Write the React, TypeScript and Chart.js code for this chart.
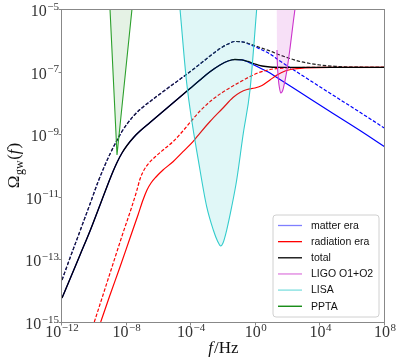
import React, { useEffect, useRef } from 'react';
import { Chart, registerables } from 'chart.js';

Chart.register(...registerables);

const W = 399;
const H = 363;

// Tick positions (as powers of ten)
const xTickExps = [-12, -8, -4, 0, 4, 8];
const yTickExps = [-15, -13, -11, -9, -7, -5];

// Curves, stored as log10(f / Hz) and log10(Omega_gw)
const totalSolidLogF = [-12, -11.505, -10.885, -10.266, -9.647, -9.152, -8.842, -8.594, -8.285, -7.975, -7.542, -7.17, -6.551, -5.932, -5.313, -4.693, -4.074, -3.455, -2.836, -2.217, -1.721, -1.288, -0.854, -0.483, -0.05, 0.384, 0.879, 1.808, 4.594, 8];
const totalSolidLogOmega = [-14.233, -13.626, -12.859, -12.093, -11.262, -10.591, -10.192, -9.904, -9.601, -9.361, -9.089, -8.898, -8.626, -8.355, -8.083, -7.812, -7.54, -7.268, -7.006, -6.789, -6.661, -6.613, -6.623, -6.677, -6.757, -6.821, -6.853, -6.863, -6.863, -6.863];

const totalDashedLogF = [-12, -11.505, -10.885, -10.266, -9.771, -9.337, -9.028, -8.718, -8.347, -7.975, -7.542, -7.17, -6.427, -5.622, -4.693, -4.074, -3.455, -2.836, -2.217, -1.721, -1.288, -0.854, -0.359, 0.26, 0.879, 1.498, 2.118, 2.737, 3.356, 3.975, 4.904, 5.833, 8];
const totalDashedLogOmega = [-13.658, -12.955, -12.093, -11.23, -10.527, -9.984, -9.633, -9.313, -8.962, -8.674, -8.403, -8.211, -7.907, -7.594, -7.243, -7.006, -6.757, -6.502, -6.265, -6.118, -6.038, -6.048, -6.118, -6.23, -6.342, -6.47, -6.581, -6.677, -6.741, -6.789, -6.831, -6.856, -6.863];

const matterSolidLogF = [-12, -11.505, -10.885, -10.266, -9.647, -9.152, -8.842, -8.594, -8.285, -7.975, -7.542, -7.17, -6.551, -5.932, -5.313, -4.693, -4.074, -3.455, -2.836, -2.217, -1.721, -1.288, -0.854, -0.483, -0.05, 0.384, 0.879, 1.498, 2.737, 4.594, 6.452, 8];
const matterSolidLogOmega = [-14.233, -13.626, -12.859, -12.093, -11.262, -10.591, -10.192, -9.904, -9.601, -9.361, -9.089, -8.898, -8.626, -8.355, -8.083, -7.812, -7.54, -7.268, -7.006, -6.789, -6.661, -6.613, -6.623, -6.693, -6.805, -6.917, -7.045, -7.252, -7.661, -8.275, -8.882, -9.409];

const matterDashedLogF = [-12, -11.505, -10.885, -10.266, -9.771, -9.337, -9.028, -8.718, -8.347, -7.975, -7.542, -7.17, -6.427, -5.622, -4.693, -4.074, -3.455, -2.836, -2.217, -1.721, -1.288, -0.854, -0.359, 0.26, 0.879, 1.498, 2.737, 4.594, 6.452, 8];
const matterDashedLogOmega = [-13.658, -12.955, -12.093, -11.23, -10.527, -9.984, -9.633, -9.313, -8.962, -8.674, -8.403, -8.211, -7.907, -7.594, -7.243, -7.006, -6.757, -6.502, -6.265, -6.118, -6.038, -6.048, -6.134, -6.278, -6.438, -6.661, -7.077, -7.69, -8.3, -8.815];

const radSolidLogF = [-9.604, -9.028, -8.409, -7.789, -7.294, -6.985, -6.737, -6.489, -6.18, -5.746, -5.127, -4.508, -3.889, -3.455, -2.836, -2.031, -1.412, -0.978, -0.545, -0.05, 0.384, 0.879, 1.313, 1.808, 2.303, 3.046, 4.594, 8];
const radSolidLogOmega = [-15.0, -14.137, -13.243, -12.316, -11.581, -11.102, -10.783, -10.559, -10.367, -10.144, -9.879, -9.559, -9.24, -8.962, -8.594, -8.163, -7.827, -7.668, -7.572, -7.524, -7.444, -7.268, -7.109, -6.981, -6.917, -6.885, -6.863, -6.863];

const radDashedLogF = [-10.0, -9.461, -8.904, -8.285, -7.684, -7.375, -7.17, -6.923, -6.613, -6.241, -5.746, -5.127, -4.57, -4.074, -3.455, -2.712, -2.031, -0.978, 0.074, 0.879, 1.808, 2.737, 8];
const radDashedLogOmega = [-15.0, -14.137, -13.243, -12.252, -11.326, -10.815, -10.431, -10.144, -9.92, -9.728, -9.505, -9.24, -8.93, -8.626, -8.259, -7.907, -7.652, -7.332, -7.054, -6.933, -6.885, -6.869, -6.863];

// Sensitivity regions
const pptaLogF = [-9.028, -8.594, -7.666];
const pptaLogOmega = [-5, -9.665, -5];

const lisaLogF = [-4.693, -4.279, -3.455, -3.04, -2.631, -2.372, -2.173, -2.031, -1.802, -1.492, -1.183, -0.774, -0.359, 0.056];
const lisaLogOmega = [-5, -7.364, -10.144, -11.316, -12.061, -12.412, -12.572, -12.476, -12.061, -11.316, -10.463, -8.971, -7.588, -5];

const ligoLogF = [1.282, 1.313, 1.393, 1.467, 1.542, 1.622, 1.703, 1.913, 2.118, 2.322, 2.427];
const ligoLogOmega = [-5, -6.31, -7.204, -7.524, -7.684, -7.652, -7.534, -7.003, -6.256, -5.406, -5];

const legendLabels = ['matter era', 'radiation era', 'total', 'LIGO O1+O2', 'LISA', 'PPTA'];
const legendColors = ['rgba(0,0,255,0.5)', '#ff0000', '#000000', 'rgba(191,0,191,0.5)', 'rgba(0,191,191,0.5)', '#008000'];

const SERIF = '"Liberation Serif", "DejaVu Serif", serif';
const SANS = '"Liberation Sans", Arial, sans-serif';

function pts(lf: number[], lo: number[]) {
  return lf.map((f, i) => ({ x: Math.pow(10, f), y: Math.pow(10, lo[i]) }));
}

function drawPow(ctx: CanvasRenderingContext2D, exp: number, x: number, baseY: number, align: 'center' | 'right') {
  const baseFont = `16px ${SERIF}`;
  const expFont = `11px ${SERIF}`;
  const expStr = (exp < 0 ? '\u2212' : '') + Math.abs(exp);
  ctx.font = baseFont;
  const w1 = ctx.measureText('10').width;
  ctx.font = expFont;
  const w2 = ctx.measureText(expStr).width;
  const total = w1 + w2 + 0.5;
  const left = align === 'center' ? x - total / 2 : x - total;
  ctx.textAlign = 'left';
  ctx.textBaseline = 'alphabetic';
  ctx.font = baseFont;
  ctx.fillText('10', left, baseY);
  ctx.font = expFont;
  ctx.fillText(expStr, left + w1 + 0.5, baseY - 6.5);
}

const decorPlugin = {
  id: 'decor',
  afterDraw(chart: any) {
    const ctx: CanvasRenderingContext2D = chart.ctx;
    const a = chart.chartArea;
    const xs = chart.scales.x;
    const ys = chart.scales.y;
    ctx.save();
    // frame
    ctx.strokeStyle = '#888888';
    ctx.lineWidth = 1;
    ctx.strokeRect(Math.round(a.left) - 0.5, Math.round(a.top) + 0.5, Math.round(a.right - a.left), Math.round(a.bottom - a.top));
    // ticks
    ctx.beginPath();
    xTickExps.forEach((e) => {
      const px = Math.round(xs.getPixelForValue(Math.pow(10, e))) - 0.5;
      ctx.moveTo(px, a.bottom);
      ctx.lineTo(px, a.bottom + 3.5);
    });
    yTickExps.forEach((e) => {
      const py = Math.round(ys.getPixelForValue(Math.pow(10, e))) + 0.5;
      ctx.moveTo(a.left - 3.5, py);
      ctx.lineTo(a.left, py);
    });
    ctx.stroke();
    // tick labels
    ctx.fillStyle = '#333333';
    xTickExps.forEach((e) => {
      const px = xs.getPixelForValue(Math.pow(10, e));
      drawPow(ctx, e, px, a.bottom + 15, 'center');
    });
    yTickExps.forEach((e) => {
      const py = ys.getPixelForValue(Math.pow(10, e));
      drawPow(ctx, e, a.left - 3, py + 7, 'right');
    });
    // x title: f/Hz
    ctx.fillStyle = '#111111';
    const cx = (a.left + a.right) / 2;
    ctx.font = `italic 17px ${SERIF}`;
    const wf = ctx.measureText('f').width;
    ctx.font = `17px ${SERIF}`;
    const wr = ctx.measureText('/Hz').width;
    const sx = cx - (wf + wr + 1) / 2;
    ctx.textAlign = 'left';
    ctx.textBaseline = 'alphabetic';
    ctx.font = `italic 17px ${SERIF}`;
    ctx.fillText('f', sx, 353);
    ctx.font = `17px ${SERIF}`;
    ctx.fillText('/Hz', sx + wf + 1, 353);
    // y title: Omega_gw(f)
    const cy = (a.top + a.bottom) / 2;
    ctx.save();
    ctx.translate(19, cy);
    ctx.rotate(-Math.PI / 2);
    ctx.font = `17px ${SERIF}`;
    const wO = ctx.measureText('\u03A9').width;
    ctx.font = `12px ${SERIF}`;
    const wg = ctx.measureText('gw').width;
    ctx.font = `17px ${SERIF}`;
    const wp1 = ctx.measureText('(').width;
    ctx.font = `italic 17px ${SERIF}`;
    const wf2 = ctx.measureText('f').width;
    ctx.font = `17px ${SERIF}`;
    const wp2 = ctx.measureText(')').width;
    const tw = wO + wg + wp1 + wf2 + wp2 + 2;
    let tx = -tw / 2;
    ctx.font = `17px ${SERIF}`;
    ctx.fillText('\u03A9', tx, 0);
    tx += wO + 0.5;
    ctx.font = `12px ${SERIF}`;
    ctx.fillText('gw', tx, 3.5);
    tx += wg + 0.5;
    ctx.font = `17px ${SERIF}`;
    ctx.fillText('(', tx, 0);
    tx += wp1;
    ctx.font = `italic 17px ${SERIF}`;
    ctx.fillText('f', tx, 0);
    tx += wf2 + 1;
    ctx.font = `17px ${SERIF}`;
    ctx.fillText(')', tx, 0);
    ctx.restore();
    // legend
    const bw = 106;
    const bh = 102;
    const bx = a.right - 6 - bw;
    const by = a.bottom - 5 - bh;
    ctx.beginPath();
    const r = 3;
    ctx.moveTo(bx + r, by);
    ctx.lineTo(bx + bw - r, by);
    ctx.quadraticCurveTo(bx + bw, by, bx + bw, by + r);
    ctx.lineTo(bx + bw, by + bh - r);
    ctx.quadraticCurveTo(bx + bw, by + bh, bx + bw - r, by + bh);
    ctx.lineTo(bx + r, by + bh);
    ctx.quadraticCurveTo(bx, by + bh, bx, by + bh - r);
    ctx.lineTo(bx, by + r);
    ctx.quadraticCurveTo(bx, by, bx + r, by);
    ctx.closePath();
    ctx.fillStyle = 'rgba(255,255,255,0.85)';
    ctx.fill();
    ctx.strokeStyle = '#d0d0d0';
    ctx.lineWidth = 1;
    ctx.stroke();
    ctx.font = `10.5px ${SANS}`;
    ctx.textBaseline = 'middle';
    legendLabels.forEach((lab, i) => {
      const ry = by + 10.5 + i * 16.15;
      ctx.strokeStyle = legendColors[i];
      ctx.lineWidth = 1.3;
      ctx.beginPath();
      ctx.moveTo(bx + 5, ry);
      ctx.lineTo(bx + 29, ry);
      ctx.stroke();
      ctx.fillStyle = '#111111';
      ctx.fillText(lab, bx + 38, ry + 0.5);
    });
    ctx.restore();
  },
};

function lineDs(label: string, lf: number[], lo: number[], color: string, dashed: boolean, width = 1.2) {
  return {
    label,
    data: pts(lf, lo),
    borderColor: color,
    borderWidth: width,
    borderDash: dashed ? [3.5, 1.8] : [],
    pointRadius: 0,
    fill: false,
    cubicInterpolationMode: 'monotone',
  };
}

export default function App() {
  const ref = useRef<HTMLCanvasElement | null>(null);
  useEffect(() => {
    if (!ref.current) return;
    const chart = new Chart(ref.current, {
      type: 'line',
      data: {
        datasets: [
          {
            label: 'PPTA',
            data: pts(pptaLogF, pptaLogOmega),
            borderColor: '#2ca02c',
            backgroundColor: 'rgba(0,128,0,0.1)',
            borderWidth: 1.1,
            pointRadius: 0,
            fill: 'end',
            tension: 0,
          },
          {
            label: 'LISA',
            data: pts(lisaLogF, lisaLogOmega),
            borderColor: '#33cccc',
            backgroundColor: 'rgba(0,191,191,0.12)',
            borderWidth: 1.1,
            pointRadius: 0,
            fill: 'end',
            cubicInterpolationMode: 'monotone',
          },
          {
            label: 'LIGO O1+O2',
            data: pts(ligoLogF, ligoLogOmega),
            borderColor: '#cc33cc',
            backgroundColor: 'rgba(191,0,191,0.12)',
            borderWidth: 1.1,
            pointRadius: 0,
            fill: 'end',
            cubicInterpolationMode: 'monotone',
            segment: {
              borderColor: (c: any) => (c.p0DataIndex < 1 ? 'rgba(0,0,0,0)' : undefined),
            },
          },
          lineDs('total', totalSolidLogF, totalSolidLogOmega, '#000000', false, 1.3),
          lineDs('total (dashed)', totalDashedLogF, totalDashedLogOmega, '#222222', true),
          lineDs('radiation era', radSolidLogF, radSolidLogOmega, '#ff0000', false),
          lineDs('radiation era (dashed)', radDashedLogF, radDashedLogOmega, '#ff0000', true),
          lineDs('matter era', matterSolidLogF, matterSolidLogOmega, '#0000ff', false),
          lineDs('matter era (dashed)', matterDashedLogF, matterDashedLogOmega, '#0000ff', true),
        ] as any,
      },
      options: {
        animation: false,
        responsive: false,
        devicePixelRatio: 1,
        layout: { padding: { left: 62, top: 9, right: 14, bottom: 41 } },
        plugins: {
          legend: { display: false },
          tooltip: { enabled: false },
        },
        scales: {
          x: { type: 'logarithmic', min: 1e-12, max: 1e8, display: false },
          y: { type: 'logarithmic', min: 1e-15, max: 1e-5, display: false },
        },
      } as any,
      plugins: [decorPlugin],
    });
    return () => chart.destroy();
  }, []);
  return (
    <div style={{ position: 'fixed', left: 0, top: 0, width: W, height: H, background: '#fff' }}>
      <canvas ref={ref} width={W} height={H} style={{ display: 'block' }} />
    </div>
  );
}
